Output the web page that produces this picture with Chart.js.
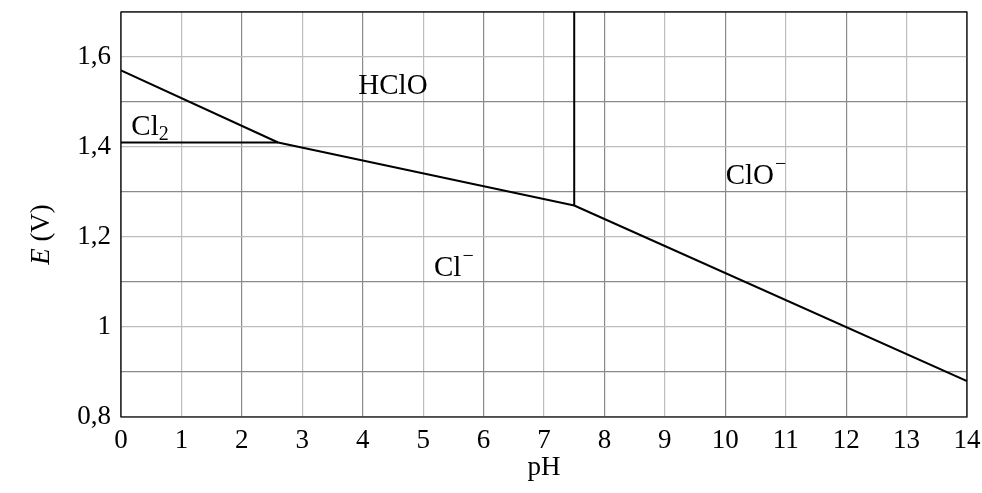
<!DOCTYPE html>
<html>
<head>
<meta charset="utf-8">
<script src="https://cdn.jsdelivr.net/npm/chart.js@4"></script>
<style>
  html, body { margin: 0; padding: 0; background: #fff; }
  #wrap { width: 982px; height: 493px; position: relative; }
</style>
</head>
<body>
<div id="wrap"><canvas id="pourbaix"></canvas></div>
<script>
// frontières du diagramme E-pH du chlore
const cl2ClPH = [0, 2.6];
const cl2ClE = [1.41, 1.41];
const hcloCl2PH = [0, 2.6];
const hcloCl2E = [1.57, 1.41];
const hcloClPH = [2.6, 7.5];
const hcloClE = [1.41, 1.27];
const hcloCloPH = [7.5, 7.5];
const hcloCloE = [1.27, 1.7];
const cloClPH = [7.5, 14];
const cloClE = [1.27, 0.88];

// étiquettes des domaines : texte, indice/exposant, position
const regionText = ['HClO', 'Cl', 'Cl', 'ClO'];
const regionSub = ['', '2', '', ''];
const regionSup = ['', '', '\u2212', '\u2212'];
const regionPH = [4.5, 0.48, 5.5, 10.5];
const regionE = [1.54, 1.45, 1.135, 1.34];

const xTicks = [0, 1, 2, 3, 4, 5, 6, 7, 8, 9, 10, 11, 12, 13, 14];
const yTickLabels = ['0,8', '1', '1,2', '1,4', '1,6'];

const FONT = '"Liberation Serif", "DejaVu Serif", serif';

function toPoints(xs, ys) {
    return xs.map((x, i) => ({ x: x, y: ys[i] }));
}

function line(xs, ys) {
    return {
        data: toPoints(xs, ys),
        showLine: true,
        borderColor: '#000',
        borderWidth: 2,
        pointRadius: 0,
        fill: false
    };
}

// cadre complet, titre de l'axe E et noms des espèces
const extrasPlugin = {
    id: 'extras',
    afterDatasetsDraw(chart) {
        const ctx = chart.ctx;
        const a = chart.chartArea;
        const xs = chart.scales.x;
        const ys = chart.scales.y;
        ctx.save();
        ctx.strokeStyle = '#000';
        ctx.lineWidth = 1.2;
        ctx.strokeRect(a.left, a.top, a.right - a.left, a.bottom - a.top);

        ctx.fillStyle = '#000';
        ctx.textBaseline = 'alphabetic';

        // titre vertical « E (V) » avec E en italique
        ctx.save();
        ctx.translate(49, (a.top + a.bottom) / 2 + 20);
        ctx.rotate(-Math.PI / 2);
        ctx.font = 'italic 27px ' + FONT;
        const wE = ctx.measureText('E').width;
        ctx.font = '27px ' + FONT;
        const wV = ctx.measureText(' (V)').width;
        const sx = -(wE + wV) / 2;
        ctx.font = 'italic 27px ' + FONT;
        ctx.textAlign = 'left';
        ctx.fillText('E', sx, 0);
        ctx.font = '27px ' + FONT;
        ctx.fillText(' (V)', sx + wE, 0);
        ctx.restore();

        regionText.forEach((t, i) => {
            const px = xs.getPixelForValue(regionPH[i]);
            const py = ys.getPixelForValue(regionE[i]);
            ctx.font = '29px ' + FONT;
            const w = ctx.measureText(t).width;
            ctx.font = '20px ' + FONT;
            const ws = ctx.measureText(regionSub[i] || regionSup[i]).width;
            const x0 = px - (w + ws) / 2;
            ctx.font = '29px ' + FONT;
            ctx.textAlign = 'left';
            ctx.fillText(t, x0, py + 10);
            ctx.font = '20px ' + FONT;
            if (regionSub[i]) ctx.fillText(regionSub[i], x0 + w, py + 15);
            if (regionSup[i]) ctx.fillText(regionSup[i], x0 + w + 1, py - 4);
        });
        ctx.restore();
    }
};

new Chart(document.getElementById('pourbaix'), {
    type: 'scatter',
    data: {
        datasets: [
            line(cl2ClPH, cl2ClE),
            line(hcloCl2PH, hcloCl2E),
            line(hcloClPH, hcloClE),
            line(hcloCloPH, hcloCloE),
            line(cloClPH, cloClE)
        ]
    },
    options: {
        responsive: true,
        maintainAspectRatio: false,
        animation: false,
        layout: { padding: { top: 12, right: 15, left: 0, bottom: 0 } },
        plugins: {
            legend: { display: false },
            tooltip: { enabled: false }
        },
        scales: {
            x: {
                type: 'linear',
                min: 0,
                max: 14,
                afterBuildTicks(scale) {
                    scale.ticks = xTicks.map(v => ({ value: v }));
                },
                afterFit(scale) {
                    scale.height = 76;
                    scale.paddingLeft = 0;
                    scale.paddingRight = 0;
                },
                ticks: {
                    color: '#000',
                    font: { family: FONT, size: 27 },
                    padding: 8,
                    maxRotation: 0,
                    autoSkip: false,
                    callback: v => String(v)
                },
                grid: {
                    color: ctx => (ctx.index % 2 === 0 ? '#8a8a8a' : '#bdbdbd'),
                    lineWidth: 1.2,
                    drawTicks: false
                },
                border: { display: false },
                title: {
                    display: true,
                    text: 'pH',
                    color: '#000',
                    font: { family: FONT, size: 27 },
                    padding: { top: 0, bottom: 9 }
                }
            },
            y: {
                type: 'linear',
                min: 0.8,
                max: 1.7,
                afterBuildTicks(scale) {
                    const t = [];
                    for (let i = 0; i <= 9; i++) t.push({ value: Math.round((0.8 + i * 0.1) * 10) / 10 });
                    scale.ticks = t;
                },
                afterFit(scale) {
                    scale.width = 121;
                    scale.paddingTop = 0;
                    scale.paddingBottom = 0;
                },
                ticks: {
                    color: '#000',
                    font: { family: FONT, size: 27 },
                    padding: 10,
                    autoSkip: false,
                    callback: function (v, i) {
                        return i % 2 === 0 ? yTickLabels[i / 2] : '';
                    }
                },
                grid: {
                    color: ctx => (ctx.index % 2 === 0 ? '#bdbdbd' : '#8a8a8a'),
                    lineWidth: 1.2,
                    drawTicks: false
                },
                border: { display: false },
                title: { display: false }
            }
        }
    },
    plugins: [extrasPlugin]
});
</script>
</body>
</html>
